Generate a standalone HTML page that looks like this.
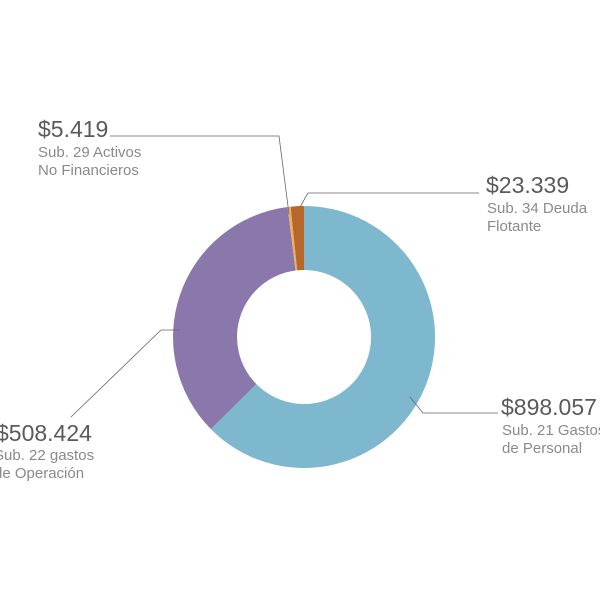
<!DOCTYPE html>
<html><head><meta charset="utf-8"><style>
html,body{margin:0;padding:0;background:#fff;}
svg{display:block;}
.b{font-family:"Liberation Sans",sans-serif;font-size:23px;fill:#5a5a5a;}
.s{font-family:"Liberation Sans",sans-serif;font-size:15px;fill:#8a8a8a;}
</style></head><body>
<svg width="600" height="600" viewBox="0 0 600 600" xmlns="http://www.w3.org/2000/svg">
<rect width="600" height="600" fill="#fff"/>
<path d="M304 206 A131 131 0 1 1 210.9 429.1 L256.4 384.1 A67 67 0 1 0 304 270 Z" fill="#7eb8cf"/>
<path d="M210.9 429.1 A131 131 0 0 1 287.6 207.0 L295.6 270.5 A67 67 0 0 0 256.4 384.1 Z" fill="#8a78ad"/>
<path d="M287.6 207.0 A131 131 0 0 1 290.6 206.7 L297.2 270.3 A67 67 0 0 0 295.6 270.5 Z" fill="#f0b060"/>
<path d="M290.6 206.7 A131 131 0 0 1 304 206 L304 270 A67 67 0 0 0 297.2 270.3 Z" fill="#b5682a"/>
<g stroke="#666" stroke-width="0.8" fill="none">
<polyline points="110,136 279,136 289,214"/>
<polyline points="479,193 308,193 300,207"/>
<polyline points="498,413 423,413 410,397"/>
<polyline points="71,417 161,330 180,330"/>
</g>
<text class="b" x="38" y="137">$5.419</text>
<text class="s" x="38" y="157">Sub. 29 Activos</text>
<text class="s" x="38" y="175">No Financieros</text>
<text class="b" x="486" y="193">$23.339</text>
<text class="s" x="487" y="213">Sub. 34 Deuda</text>
<text class="s" x="487" y="231">Flotante</text>
<text class="b" x="501" y="415">$898.057</text>
<text class="s" x="502" y="435">Sub. 21 Gastos</text>
<text class="s" x="502" y="453">de Personal</text>
<text class="b" x="-4" y="441">$508.424</text>
<text class="s" x="-6" y="460">Sub. 22 gastos</text>
<text class="s" x="-6" y="478">de Operación</text>
</svg>
</body></html>
